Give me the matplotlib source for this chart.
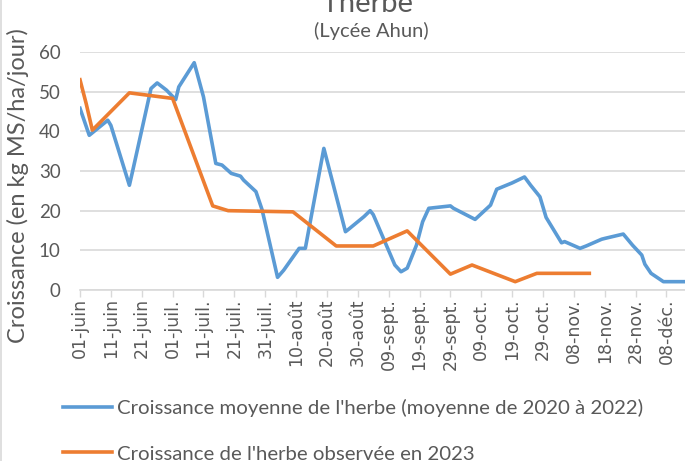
import matplotlib
matplotlib.use('Agg')
import matplotlib.pyplot as plt
from matplotlib.lines import Line2D

# Days counted from 01-juin
moy_days = [0, 3, 9, 10, 16, 17, 23, 25, 28, 31, 32, 37, 40, 44, 46, 49, 52, 53, 57, 59,
            64, 66, 71, 73, 79, 86, 87, 92, 94, 95, 102, 104, 106, 109, 111, 113, 120, 121,
            128, 133, 135, 140, 144, 146, 149, 151, 156, 157, 162, 164, 169, 170, 176, 179,
            182, 183, 185, 189, 196]
moy_vals = [45.8, 39.0, 42.8, 41.5, 26.4, 29.8, 50.8, 52.2, 50.4, 48.0, 51.2, 57.3, 48.7,
            31.9, 31.5, 29.4, 28.7, 27.7, 24.8, 20.2, 3.2, 5.0, 10.5, 10.5, 35.7, 14.7, 15.3,
            18.5, 20.0, 19.0, 6.3, 4.6, 5.5, 11.3, 17.2, 20.6, 21.2, 20.6, 17.8, 21.4, 25.4,
            27.0, 28.5, 26.4, 23.5, 18.3, 11.9, 12.2, 10.5, 11.1, 12.8, 13.0, 14.1, 11.3, 8.8,
            6.5, 4.2, 2.1, 2.1]

obs_days = [0, 2, 4, 16, 30, 43, 48, 69, 83, 95, 106, 120, 127, 141, 148, 165]
obs_vals = [53.0, 47.0, 40.3, 49.7, 48.3, 21.2, 20.0, 19.7, 11.1, 11.1, 14.9, 4.0, 6.3, 2.1,
            4.2, 4.2]

tick_days = list(range(0, 191, 10))
tick_labels = ['01-juin', '11-juin', '21-juin', '01-juil.', '11-juil.', '21-juil.', '31-juil.',
               '10-août', '20-août', '30-août', '09-sept.', '19-sept.', '29-sept.', '09-oct.',
               '19-oct.', '29-oct.', '08-nov.', '18-nov.', '28-nov.', '08-déc.']

lbl_moy = "Croissance moyenne de l'herbe (moyenne de 2020 à 2022)"
lbl_obs = "Croissance de l'herbe observée en 2023"

blue = '#5B9BD5'
orange = '#ED7D31'
grey = '#595959'
gridc = '#D9D9D9'

W, H = 685, 461
fig = plt.figure(figsize=(W / 100, H / 100), dpi=100)
ax = fig.add_axes([80 / W, 1 - 290 / H, (W - 80) / W, (290 - 52) / H])

ax.plot(moy_days, moy_vals, color=blue, lw=2.6, solid_joinstyle='round')
ax.plot(obs_days, obs_vals, color=orange, lw=2.6, solid_joinstyle='round')

ax.set_xlim(0, 196)
ax.set_ylim(0, 60)
ax.set_yticks(range(0, 61, 10))
ax.set_yticklabels([str(v) for v in range(0, 61, 10)], fontfamily='Lato', fontsize=13.5, color=grey)
ax.set_xticks(tick_days)
ax.set_xticklabels(tick_labels, rotation=90, fontfamily='DejaVu Sans', fontsize=12.5, color=grey)
ax.tick_params(axis='y', length=0, pad=14)
ax.tick_params(axis='x', length=5, color=gridc, width=1, pad=1)
ax.grid(axis='y', color=gridc, lw=1.2)
ax.set_axisbelow(True)
for s in ['top', 'right', 'left']:
    ax.spines[s].set_visible(False)
ax.spines['bottom'].set_color(gridc)
ax.spines['bottom'].set_linewidth(1.2)

fig.text(18 / W, 1 - 343 / H, 'Croissance (en kg MS/ha/jour)', rotation=90, ha='center',
         va='bottom', fontfamily='Lato', fontsize=17, color=grey)
fig.text(370 / W, 1 - 12 / H, "l'herbe", ha='center', va='baseline', fontfamily='Lato',
         fontsize=21, color=grey)
fig.text(371 / W, 1 - 37 / H, '(Lycée Ahun)', ha='center', va='baseline', fontfamily='Lato',
         fontsize=14.5, color=grey)

handles = [Line2D([], [], color=blue, lw=2.6), Line2D([], [], color=orange, lw=2.6)]
leg = fig.legend(handles, [lbl_moy, lbl_obs], loc='upper left', bbox_to_anchor=(63 / W, 1 - 399 / H),
                 frameon=False, borderpad=0, borderaxespad=0, handlelength=2.4, handletextpad=0.25,
                 labelspacing=1.38, prop={'family': 'Lato', 'size': 14.7})
for t in leg.get_texts():
    t.set_color(grey)

fig.add_artist(Line2D([1 / W, 1 / W], [0, 1], color=gridc, lw=1.2, transform=fig.transFigure))

fig.savefig('out.png', dpi=100)
